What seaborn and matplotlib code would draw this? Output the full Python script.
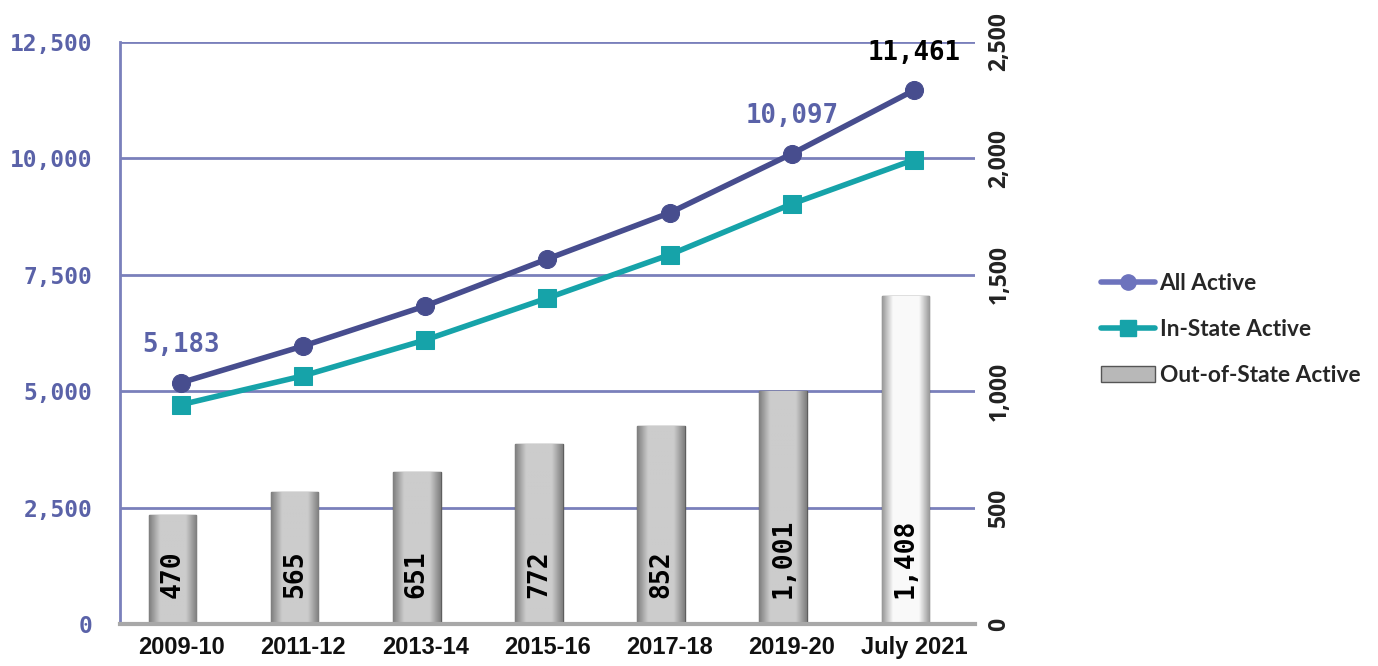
import numpy as np
import matplotlib.pyplot as plt
from matplotlib.lines import Line2D
from matplotlib.patches import Patch
import seaborn as sns

sns.set_theme(style="white")

# data
periods = ["2009-10", "2011-12", "2013-14", "2015-16", "2017-18", "2019-20", "July 2021"]
all_active = [5183, 5970, 6830, 7840, 8830, 10097, 11461]
in_state = [4710, 5330, 6100, 7000, 7930, 9020, 9970]
out_state = [470, 565, 651, 772, 852, 1001, 1408]
left_ticks = [0, 2500, 5000, 7500, 10000, 12500]
right_ticks = [0, 500, 1000, 1500, 2000, 2500]

c_all = "#474d8e"
c_in = "#16a3a9"
c_tick = "#5a62a8"
c_grid = "#7a80bb"
mono = "DejaVu Sans Mono"

fig = plt.figure(figsize=(13.78, 6.66), dpi=100)
rect = [0.0871, 0.0631, 0.7075 - 0.0871, 0.937 - 0.0631]
ax_bar = fig.add_axes(rect)
ax_line = fig.add_axes(rect)
ax_line.patch.set_visible(False)

# bars (right scale) - sit slightly left of the category centres, like the original
sns.barplot(x=periods, y=out_state, ax=ax_bar, width=0.39, color="#bdbdbd",
            edgecolor="#5e5e5e", linewidth=1.0, zorder=2)
ax_bar.set_ylim(0, 2500)
ax_bar.set_xlim(-0.43, 6.57)

# bevel-ish gradient inside bars
xs = np.linspace(0, 1, 64)
shade = 1 - np.abs(xs - 0.5) * 2
for i, p in enumerate(list(ax_bar.patches)):
    x0, y0 = p.get_x(), p.get_y()
    w, h = p.get_width(), p.get_height()
    if i == len(out_state) - 1:
        lo, hi = 0.6, 0.98
    else:
        lo, hi = 0.5, 0.8
    g = lo + (hi - lo) * np.clip(shade * 2.2, 0, 1)
    img = np.dstack([g, g, g]).repeat(2, axis=0)
    im = ax_bar.imshow(img, extent=(x0, x0 + w, y0, y0 + h), aspect="auto",
                       zorder=2.5, origin="lower")
    im.set_clip_path(p)

for i, v in enumerate(out_state):
    ax_bar.text(i, 112, f"{v:,}", rotation=90, ha="center", va="bottom",
                fontsize=19, fontweight="bold", family=mono, color="black", zorder=4)

ax_bar.set_yticks(right_ticks)
ax_bar.set_yticklabels([f"{t:,}" for t in right_ticks], rotation=90, va="center",
                       fontsize=16.5, fontweight="bold", family="Open Sans", color="#222222")
ax_bar.yaxis.tick_right()
ax_bar.tick_params(axis="y", length=0, pad=9)
ax_bar.grid(axis="y", color=c_grid, linewidth=2)
ax_bar.set_axisbelow(True)
ax_bar.set_xticks([])
ax_bar.set_xlabel("")

# lines (left scale)
x = np.arange(len(periods))
sns.lineplot(x=x, y=all_active, ax=ax_line, color=c_all, linewidth=4, marker="o",
             markersize=13, markeredgecolor=c_all, sort=False, zorder=5)
sns.lineplot(x=x, y=in_state, ax=ax_line, color=c_in, linewidth=4, marker="s",
             markersize=13, markeredgecolor=c_in, sort=False, zorder=5)
ax_line.set_ylim(0, 12500)
ax_line.set_xlim(-0.5, 6.5)
ax_line.set_yticks(left_ticks)
ax_line.set_yticklabels([f"{t:,}" for t in left_ticks], fontsize=16.5, fontweight="bold",
                        family=mono, color=c_tick)
ax_line.tick_params(axis="y", length=0, pad=20)
ax_line.set_xticks(x)
ax_line.set_xticklabels(periods, fontsize=17, fontweight="bold", family="Liberation Sans",
                        color="#111111")
ax_line.tick_params(axis="x", length=0, pad=9)

for idx, col in [(0, c_tick), (5, c_tick), (6, "black")]:
    ax_line.annotate(f"{all_active[idx]:,}", (x[idx], all_active[idx]),
                     xytext=(0, 27), textcoords="offset points", ha="center", va="center",
                     fontsize=18.5, fontweight="bold", family=mono, color=col)

for a in (ax_bar, ax_line):
    for s in ("top", "right", "left", "bottom"):
        a.spines[s].set_visible(False)
ax_line.spines["left"].set_visible(True)
ax_line.spines["left"].set_color(c_grid)
ax_line.spines["left"].set_linewidth(2)
ax_line.spines["bottom"].set_visible(True)
ax_line.spines["bottom"].set_color("#a8a8a8")
ax_line.spines["bottom"].set_linewidth(3)

handles = [
    Line2D([], [], color="#6d73bd", linewidth=4, marker="o", markersize=11),
    Line2D([], [], color=c_in, linewidth=4, marker="s", markersize=11),
    Patch(facecolor="#b8b8b8", edgecolor="#555555"),
]
labels = ["All Active", "In-State Active", "Out-of-State Active"]
fig.legend(handles, labels, loc="center left", bbox_to_anchor=(0.784, 0.505),
           frameon=False, handlelength=2.4, labelspacing=1.1, handletextpad=0.2,
           prop={"family": "Lato", "weight": "bold", "size": 16.3})

fig.savefig("out.png", dpi=100)
